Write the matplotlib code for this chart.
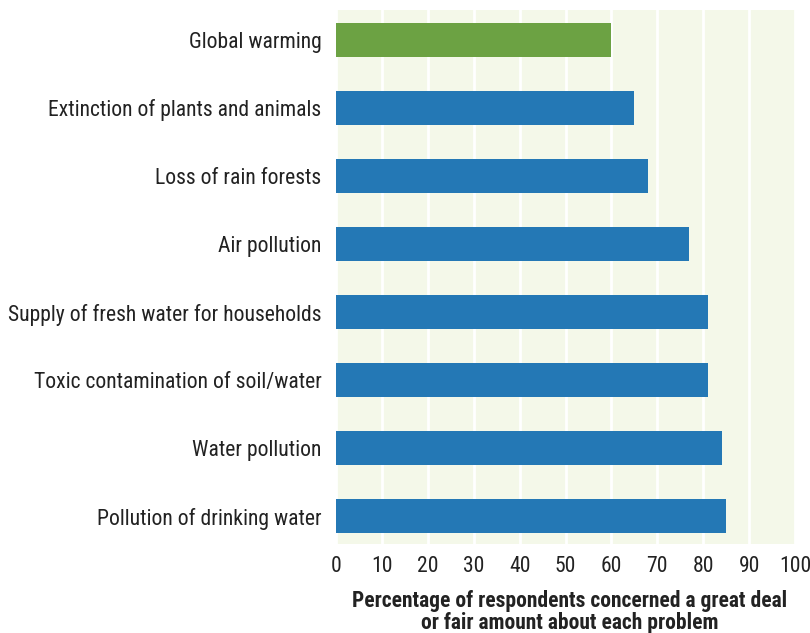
import matplotlib
matplotlib.use('Agg')
import matplotlib.pyplot as plt
from matplotlib import font_manager

# Data (top to bottom as shown)
categories = [
    'Global warming',
    'Extinction of plants and animals',
    'Loss of rain forests',
    'Air pollution',
    'Supply of fresh water for households',
    'Toxic contamination of soil/water',
    'Water pollution',
    'Pollution of drinking water',
]
values = [60, 65, 68, 77, 81, 81, 84, 85]
highlight = 'Global warming'
xticks = [0, 10, 20, 30, 40, 50, 60, 70, 80, 90, 100]
xlabel = 'Percentage of respondents concerned a great deal\nor fair amount about each problem'

# pick a narrow font if one is around
names = sorted({f.name for f in font_manager.fontManager.ttflist})
fam = 'DejaVu Sans'
for cand in ['Liberation Sans Narrow', 'Roboto Condensed', 'Open Sans Condensed', 'Arial Narrow', 'Noto Sans Condensed']:
    if cand in names:
        fam = cand
        break
plt.rcParams['font.family'] = [fam, 'DejaVu Sans']
stretch = 'condensed'

fig = plt.figure(figsize=(8.1, 6.33), dpi=100)
ax = fig.add_axes([336 / 810, 1 - 544 / 633, 459 / 810, 534 / 633])
ax.set_facecolor('#f4f8e9')
renderer = fig.canvas.get_renderer()


def fit_size(s, target_px, weight='normal'):
    t = fig.text(0, 0, s, fontsize=10, fontweight=weight, fontstretch=stretch)
    w = t.get_window_extent(renderer).width
    t.remove()
    return 10 * target_px / w


ysize = fit_size('Supply of fresh water for households', 313)
lsize = fit_size('Percentage of respondents concerned a great deal', 435, 'bold')

n = len(categories)
ypos = list(range(n - 1, -1, -1))
colors = ['#6ca243' if c == highlight else '#2478b5' for c in categories]
ax.barh(ypos, values, height=0.5, color=colors, zorder=3)

ax.set_xlim(0, 100)
ax.set_ylim(-0.41, n - 1 + 0.44)
ax.set_xticks(xticks)
ax.set_xticklabels([str(v) for v in xticks], fontsize=ysize, fontstretch=stretch)
ax.set_yticks(ypos)
ax.set_yticklabels(categories, fontsize=ysize, fontstretch=stretch)
ax.tick_params(axis='both', length=0, colors='#222222')
ax.tick_params(axis='y', pad=10.5)
ax.tick_params(axis='x', pad=9)
for s in ax.spines.values():
    s.set_visible(False)
ax.grid(axis='x', color='white', linewidth=2, zorder=1)
ax.set_axisbelow(True)

fig.text(570 / 810, 1 - 612 / 633, xlabel, fontsize=lsize, fontweight='bold', fontstretch=stretch,
         color='#222222', ha='center', va='center', linespacing=1.05)

fig.savefig('out.png', dpi=100)
